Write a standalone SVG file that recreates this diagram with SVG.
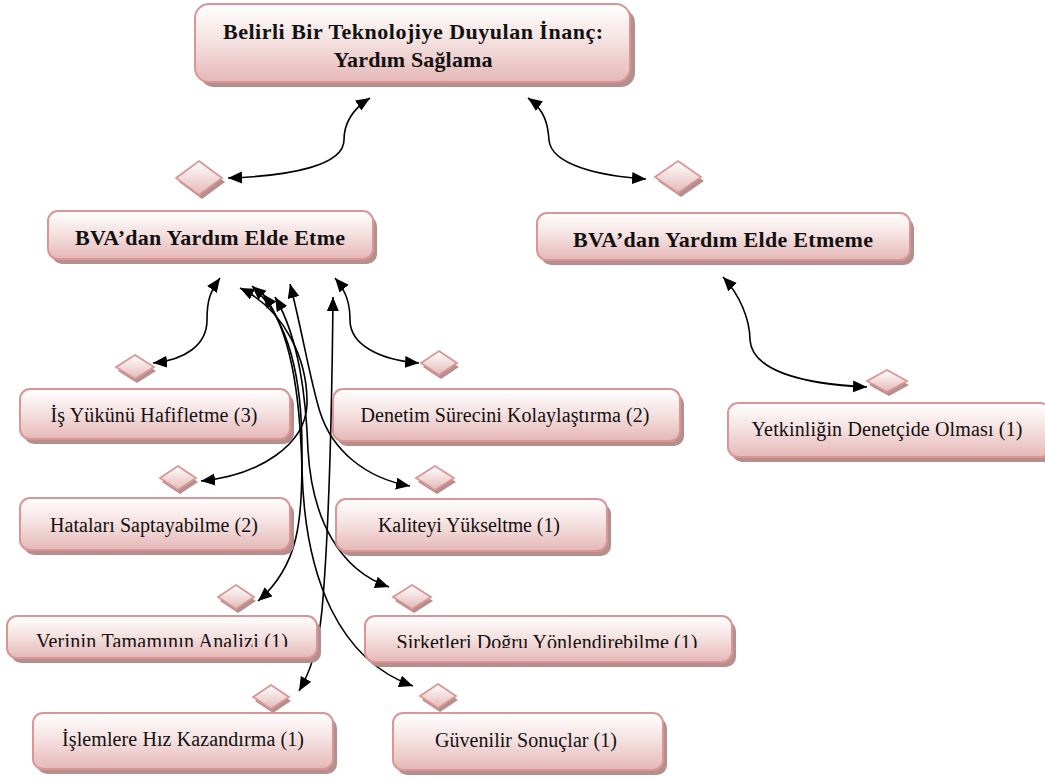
<svg xmlns="http://www.w3.org/2000/svg" width="1045" height="781" viewBox="0 0 1045 781">
  <defs>
    <style>
      .shadow { fill: #b58f8e; }
      .box { fill: url(#boxGrad); stroke: #d99694; stroke-width: 2; }
      .dia { fill: url(#diaGrad); stroke: #d99694; stroke-width: 1.8; }
      .lbl { font-family: "Liberation Serif", "Times New Roman", serif; font-size: 20px; fill: #111; text-anchor: middle; }
      .ttl { font-family: "Liberation Serif", "Times New Roman", serif; font-size: 22px; font-weight: bold; fill: #111; text-anchor: middle; }
      .link { fill: none; stroke: #000; stroke-width: 1.6; marker-start: url(#tip); marker-end: url(#tip); }
    </style>
    <linearGradient id="boxGrad" x1="0" y1="0" x2="0" y2="1">
      <stop offset="0" stop-color="#ffffff"/>
      <stop offset="0.45" stop-color="#f5e3e2"/>
      <stop offset="1" stop-color="#e5b8b7"/>
    </linearGradient>
    <linearGradient id="diaGrad" x1="0" y1="0" x2="0" y2="1">
      <stop offset="0" stop-color="#ffffff"/>
      <stop offset="1" stop-color="#e5b8b7"/>
    </linearGradient>
    <marker id="tip" markerUnits="userSpaceOnUse" markerWidth="15" markerHeight="13" refX="14" refY="6" orient="auto-start-reverse">
      <path d="M0,0 L14,6 L0,12 z" fill="#000"/>
    </marker>
    <clipPath id="clipVerinin"><rect x="0" y="600" width="330" height="47"/></clipPath>
    <clipPath id="clipSirket"><rect x="360" y="600" width="380" height="48"/></clipPath>
  </defs>

  <rect width="1045" height="781" fill="#ffffff"/>

  <!-- connectors -->
  <g id="connectors">
    <path class="link" d="M370,98 C351,110 344,125 344,140 C344,165 292,176 228,178"/>
    <path class="link" d="M528,98 C545,110 548,125 549,140 C551,165 600,176 646,179"/>
    <path class="link" d="M723,277 C740,295 750,320 750,340 C752,370 800,384 867,387"/>
    <path class="link" d="M220,278 C210,292 207,300 207,320 C207,345 185,360 153,363"/>
    <path class="link" d="M335,278 C347,292 350,305 350,320 C350,345 380,360 419,363"/>
    <path class="link" d="M333,297 C332,400 330,520 322,610 C318,650 310,672 299,691"/>
    <path class="link" d="M240,288 C285,310 308,360 307,405 C305,445 260,475 201,481"/>
    <path class="link" d="M252,286 C290,320 302,380 302,450 C302,520 300,565 258,601"/>
    <path class="link" d="M263,294 C290,330 300,390 302,470 C305,580 340,660 413,686"/>
    <path class="link" d="M275,297 C300,340 306,400 308,450 C312,520 340,570 389,587"/>
    <path class="link" d="M290,284 C302,330 310,380 320,412 C332,450 365,478 410,486"/>
  </g>

  <!-- decision diamonds -->
  <g id="d-top-left">
    <path class="shadow" d="M202,165 L225,182 L202,199 L179,182 z"/>
    <path class="dia" d="M199,161 L222,178 L199,195 L176,178 z"/>
  </g>
  <g id="d-top-right">
    <path class="shadow" d="M681,165 L704,181 L681,197 L658,181 z"/>
    <path class="dia" d="M678,161 L701,177 L678,193 L655,177 z"/>
  </g>
  <g id="d-isyuku">
    <path class="shadow" d="M137,359 L156,371 L137,383 L118,371 z"/>
    <path class="dia" d="M135,355 L154,367 L135,379 L116,367 z"/>
  </g>
  <g id="d-hatalar">
    <path class="shadow" d="M180,470 L198,482 L180,494 L162,482 z"/>
    <path class="dia" d="M178,466 L196,478 L178,490 L160,478 z"/>
  </g>
  <g id="d-denetim">
    <path class="shadow" d="M441,355 L459,367 L441,379 L423,367 z"/>
    <path class="dia" d="M439,351 L457,363 L439,375 L421,363 z"/>
  </g>
  <g id="d-kalite">
    <path class="shadow" d="M437,470 L456,482 L437,494 L418,482 z"/>
    <path class="dia" d="M435,466 L454,478 L435,490 L416,478 z"/>
  </g>
  <g id="d-yetkin">
    <path class="shadow" d="M889,374 L909,385 L889,396 L869,385 z"/>
    <path class="dia" d="M887,370 L907,381 L887,392 L867,381 z"/>
  </g>
  <g id="d-verinin">
    <path class="shadow" d="M238,589 L256,601 L238,613 L220,601 z"/>
    <path class="dia" d="M236,585 L254,597 L236,609 L218,597 z"/>
  </g>
  <g id="d-islemler">
    <path class="shadow" d="M273,689 L291,701 L273,713 L255,701 z"/>
    <path class="dia" d="M271,685 L289,697 L271,709 L253,697 z"/>
  </g>
  <g id="d-sirket">
    <path class="shadow" d="M414,589 L433,601 L414,613 L395,601 z"/>
    <path class="dia" d="M412,585 L431,597 L412,609 L393,597 z"/>
  </g>
  <g id="d-guven">
    <path class="shadow" d="M440,688 L458,700 L440,712 L422,700 z"/>
    <path class="dia" d="M438,684 L456,696 L438,708 L420,696 z"/>
  </g>

  <!-- nodes -->
  <g id="n-root">
    <rect class="shadow" x="200" y="9" width="435" height="78" rx="14"/>
    <rect class="box" x="195" y="4" width="435" height="78" rx="14"/>
    <text class="ttl" x="413" y="39" textLength="380">Belirli Bir Teknolojiye Duyulan İnanç:</text>
    <text class="ttl" x="413" y="67" textLength="159">Yardım Sağlama</text>
  </g>
  <g id="n-elde-etme">
    <rect class="shadow" x="52" y="216" width="325" height="48" rx="10"/>
    <rect class="box" x="48" y="211" width="325" height="48" rx="10"/>
    <text class="ttl" x="210" y="245" textLength="270">BVA’dan Yardım Elde Etme</text>
  </g>
  <g id="n-elde-etmeme">
    <rect class="shadow" x="541" y="218" width="373" height="47" rx="10"/>
    <rect class="box" x="537" y="213" width="373" height="47" rx="10"/>
    <text class="ttl" x="723" y="247" textLength="300">BVA’dan Yardım Elde Etmeme</text>
  </g>
  <g id="n-isyuku">
    <rect class="shadow" x="24" y="394" width="270" height="50" rx="10"/>
    <rect class="box" x="20" y="389" width="270" height="50" rx="10"/>
    <text class="lbl" x="154" y="422" textLength="207">İş Yükünü Hafifletme (3)</text>
  </g>
  <g id="n-hatalar">
    <rect class="shadow" x="24" y="503" width="270" height="52" rx="10"/>
    <rect class="box" x="20" y="498" width="270" height="52" rx="10"/>
    <text class="lbl" x="154" y="532" textLength="208">Hataları Saptayabilme (2)</text>
  </g>
  <g id="n-denetim">
    <rect class="shadow" x="337" y="394" width="347" height="52" rx="10"/>
    <rect class="box" x="333" y="389" width="347" height="52" rx="10"/>
    <text class="lbl" x="505" y="422" textLength="289">Denetim Sürecini Kolaylaştırma (2)</text>
  </g>
  <g id="n-kalite">
    <rect class="shadow" x="340" y="504" width="271" height="52" rx="10"/>
    <rect class="box" x="336" y="499" width="271" height="52" rx="10"/>
    <text class="lbl" x="469" y="532" textLength="182">Kaliteyi Yükseltme (1)</text>
  </g>
  <g id="n-yetkin">
    <rect class="shadow" x="732" y="408" width="322" height="54" rx="10"/>
    <rect class="box" x="728" y="403" width="322" height="54" rx="10"/>
    <text class="lbl" x="887" y="436" textLength="271">Yetkinliğin Denetçide Olması (1)</text>
  </g>
  <g id="n-verinin">
    <rect class="shadow" x="11" y="621" width="310" height="42" rx="10"/>
    <rect class="box" x="7" y="616" width="310" height="42" rx="10"/>
    <text class="lbl" x="162" y="648" textLength="252" clip-path="url(#clipVerinin)">Verinin Tamamının Analizi (1)</text>
  </g>
  <g id="n-islemler">
    <rect class="shadow" x="37" y="718" width="300" height="56" rx="10"/>
    <rect class="box" x="33" y="713" width="300" height="56" rx="10"/>
    <text class="lbl" x="183" y="746" textLength="242">İşlemlere Hız Kazandırma (1)</text>
  </g>
  <g id="n-sirket">
    <rect class="shadow" x="369" y="621" width="367" height="46" rx="10"/>
    <rect class="box" x="365" y="616" width="367" height="46" rx="10"/>
    <text class="lbl" x="547" y="649" textLength="301" clip-path="url(#clipSirket)">Sirketleri Doğru Yönlendirebilme (1)</text>
  </g>
  <g id="n-guven">
    <rect class="shadow" x="397" y="718" width="270" height="57" rx="10"/>
    <rect class="box" x="393" y="713" width="270" height="57" rx="10"/>
    <text class="lbl" x="526" y="747" textLength="182">Güvenilir Sonuçlar (1)</text>
  </g>
</svg>
